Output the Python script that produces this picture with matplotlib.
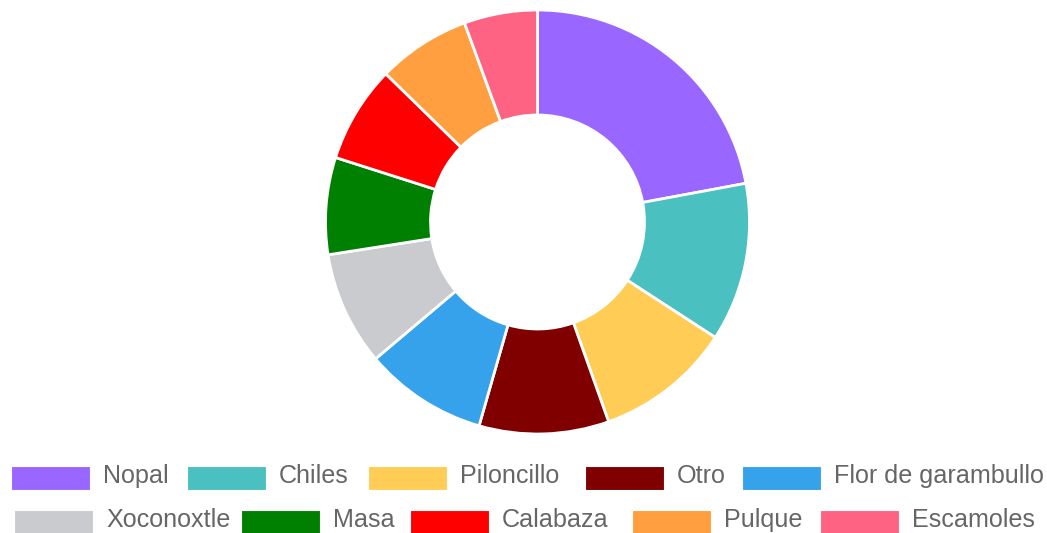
import matplotlib
matplotlib.use("Agg")
import matplotlib.pyplot as plt
from matplotlib.patches import Rectangle

labels = ["Nopal", "Chiles", "Piloncillo", "Otro", "Flor de garambullo",
          "Xoconoxtle", "Masa", "Calabaza", "Pulque", "Escamoles"]
values = [22.1, 12.1, 10.4, 9.9, 9.4, 8.7, 7.4, 7.4, 7.1, 5.6]
colors = ["#9966FF", "#4BC0C0", "#FFCD56", "#800000", "#36A2EB",
          "#C9CBCF", "#008000", "#FF0000", "#FF9F40", "#FF6384"]

# legend layout (pixels, chart.js style rows)
legend_rows = [[0, 1, 2, 3, 4], [5, 6, 7, 8, 9]]
legend_x = [[11, 187, 368, 585, 742], [14, 241, 410, 632, 820]]
legend_top = [466, 510]

W, H = 1047, 533
fig = plt.figure(figsize=(W / 100, H / 100), dpi=100)
ax = fig.add_axes([0, 0, 1, 1])

cx, cy, r_out, r_in = 537.5, H - 222, 212, 107
ax.pie(values, colors=colors, startangle=90, counterclock=False,
       center=(cx, cy), radius=r_out, frame=True,
       wedgeprops=dict(width=r_out - r_in, edgecolor="white", linewidth=2))
ax.set_xlim(0, W)
ax.set_ylim(0, H)
ax.set_aspect("equal")
ax.axis("off")

for row, xs, top in zip(legend_rows, legend_x, legend_top):
    for i, x in zip(row, xs):
        ax.add_patch(Rectangle((x, H - top - 24), 79, 24, facecolor=colors[i],
                               edgecolor="white", linewidth=0.8))
        ax.text(x + 92, H - top - 10, labels[i], fontsize=18.1,
                family="Liberation Sans", color="#666666", va="center", ha="left")

fig.savefig("out.png", dpi=100)
